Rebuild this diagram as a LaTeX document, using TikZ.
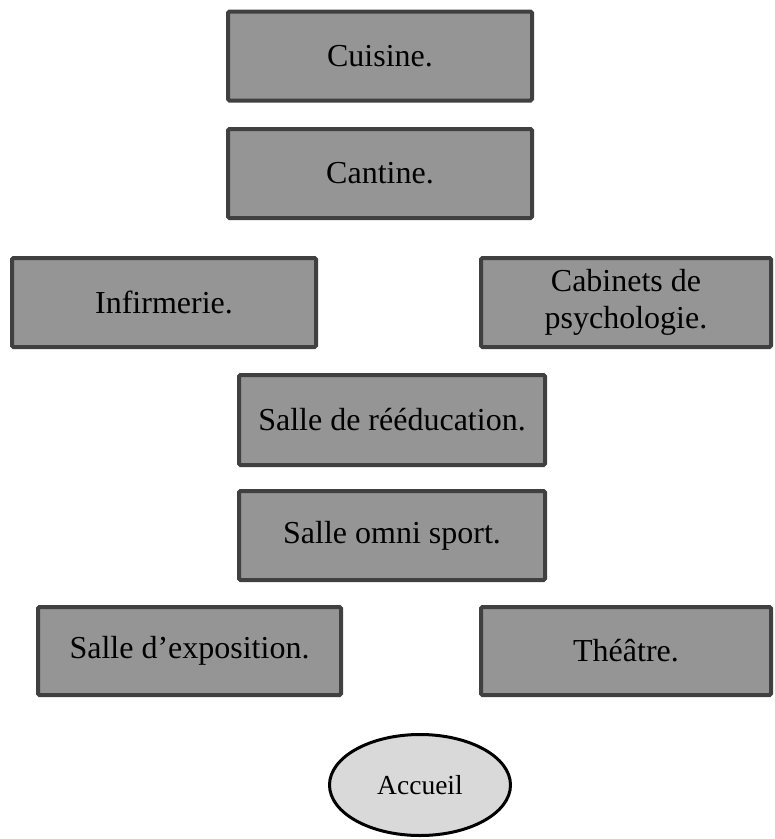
\documentclass[tikz,border=0pt]{standalone}
\usepackage{fontspec}
\setmainfont{Liberation Serif}
\usetikzlibrary{shapes.geometric}
\definecolor{boxfill}{HTML}{959595}
\definecolor{boxline}{HTML}{404040}
\definecolor{ellfill}{HTML}{D9D9D9}
\tikzset{
  room/.style={rectangle, draw=boxline, fill=boxfill, line width=4pt, rounded corners=1.5pt,
    inner sep=0pt, align=center, font=\fontsize{32}{37}\selectfont},
  hall/.style={ellipse, draw=black, fill=ellfill, line width=3pt, inner sep=0pt,
    minimum width=181pt, minimum height=101pt, font=\fontsize{27.5}{30}\selectfont}
}
\begin{document}
\begin{tikzpicture}[x=1pt,y=-1pt]
\useasboundingbox (0,0) rectangle (775,839);
\node[room, minimum width=304pt, minimum height=89pt] (cuisine) at (380,56) {Cuisine.};
\node[room, minimum width=304pt, minimum height=89pt] (cantine) at (380,173.5) {Cantine.};
\node[room, minimum width=304pt, minimum height=89pt] (infirm) at (164,302.5) {Infirmerie.};
\node[room, minimum width=290pt, minimum height=89pt] (cabinets) at (626,302.5) {Cabinets de\\psychologie.};
\node[room, minimum width=306pt, minimum height=90pt] (reed) at (392,420) {Salle de rééducation.};
\node[room, minimum width=306pt, minimum height=89pt] (omni) at (392,535.5) {Salle omni sport.};
\node[room, minimum width=303pt, minimum height=88pt] (expo) at (189.5,651) {Salle d’exposition.};
\node[room, minimum width=290pt, minimum height=88pt] (theatre) at (626,651) {Théâtre.};
\node[hall] (accueil) at (420,785) {Accueil};
\end{tikzpicture}
\end{document}
